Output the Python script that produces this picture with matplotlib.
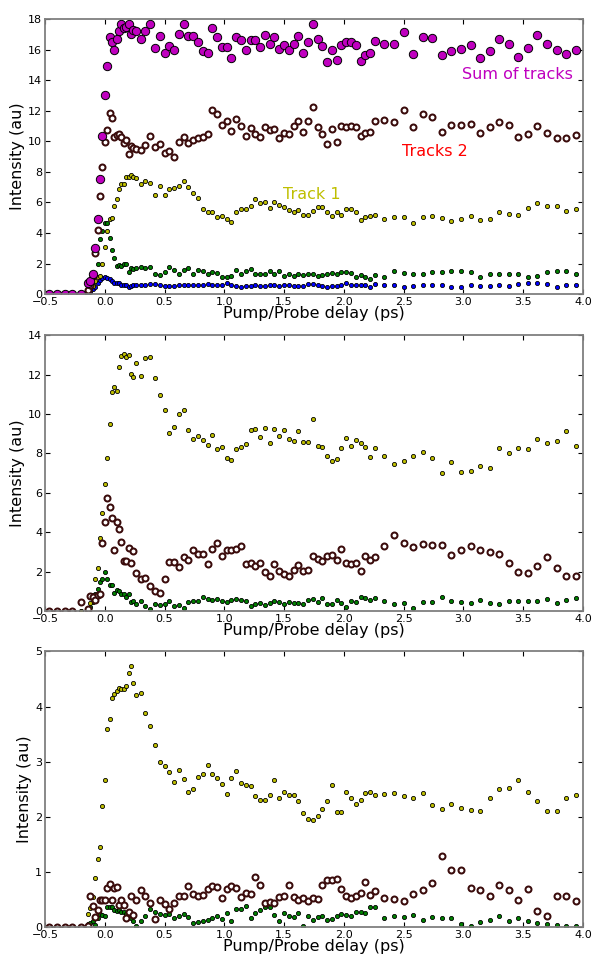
import matplotlib
matplotlib.use('Agg')
import matplotlib.pyplot as plt
import numpy as np

# delay grid (ps): sparse pre-zero, 0.02 step around t0, then 0.04, then 0.08
delay = [-0.47, -0.40, -0.33, -0.27, -0.20,
         -0.14, -0.12, -0.10, -0.08, -0.06, -0.04, -0.02, 0.00, 0.02, 0.04, 0.06,
         0.08, 0.10, 0.12, 0.14, 0.16, 0.18, 0.20, 0.22, 0.24, 0.26,
         0.30, 0.34, 0.38, 0.42, 0.46, 0.50, 0.54, 0.58, 0.62, 0.66,
         0.70, 0.74, 0.78, 0.82, 0.86, 0.90, 0.94, 0.98, 1.02, 1.06,
         1.10, 1.14, 1.18, 1.22, 1.26, 1.30, 1.34, 1.38, 1.42, 1.46,
         1.50, 1.54, 1.58, 1.62, 1.66, 1.70, 1.74, 1.78, 1.82, 1.86,
         1.90, 1.94, 1.98, 2.02, 2.06, 2.10, 2.14, 2.18, 2.22, 2.26,
         2.34, 2.42, 2.50, 2.58, 2.66, 2.74, 2.82, 2.90, 2.98, 3.06, 3.14,
         3.22, 3.30, 3.38, 3.46, 3.54, 3.62, 3.70, 3.78, 3.86, 3.94]

# ---- panel 1 ----
p1_sum = [0, 0, 0, 0, 0,
          0.7, 0.85, 1.35, 3.0, 4.95, 7.55, 10.35, 13.0, 14.9, 16.8, 16.5, 16.0, 16.7, 17.2, 17.7, 17.45, 17.5, 17.7, 17.05, 17.3, 17.2,
          16.7, 17.25, 17.7, 16.1, 16.9, 15.75, 16.25, 15.95, 17.05, 17.65,
          16.9, 16.9, 16.5, 15.9, 15.8, 17.4, 16.85, 16.2, 16.2, 15.45,
          16.8, 16.65, 15.95, 16.6, 16.65, 16.2, 16.95, 16.4, 16.85, 16.05,
          16.3, 16.0, 16.35, 16.9, 15.75, 16.5, 17.67, 16.67, 16.23, 15.19,
          15.97, 15.32, 16.28, 16.5, 16.52, 16.32, 15.23, 15.65, 15.75, 16.54,
          16.36, 16.34, 17.13, 15.71, 16.82, 16.78, 15.62, 15.88, 16.04, 16.3, 15.45,
          15.9, 16.67, 16.34, 15.49, 16.12, 16.95, 16.36, 15.95, 15.69, 15.97]
p1_tr2 = [0, 0, 0, 0, 0,
          0.3, 0.6, 1.2, 2.66, 4.19, 6.41, 8.33, 9.93, 10.73, 11.83, 11.5, 10.3, 10.4, 10.5, 10.3, 9.86, 10.12, 9.2, 9.69, 9.58, 9.47,
          9.43, 9.75, 10.34, 9.64, 9.8, 9.21, 9.36, 8.99, 9.97, 10.26,
          9.86, 10.12, 10.19, 10.26, 10.45, 12.04, 11.76, 11.06, 11.35, 10.69,
          11.48, 11.0, 10.34, 10.89, 10.45, 10.3, 10.95, 10.73, 10.78, 10.19,
          10.52, 10.47, 11.0, 11.32, 10.58, 11.32, 12.22, 10.95, 10.47, 9.82,
          10.84, 9.97, 11.02, 10.91, 10.98, 10.93, 10.36, 10.52, 10.63, 11.32,
          11.39, 11.28, 12.02, 10.95, 11.76, 11.61, 10.6, 11.1, 11.1, 11.13, 10.54,
          10.93, 11.26, 11.04, 10.28, 10.45, 11.0, 10.56, 10.19, 10.19, 10.39]
p1_tr1 = [0, 0, 0, 0, 0,
          0.2, 0.35, 0.55, 0.85, 1.1, 1.18, 2.0, 3.1, 4.15, 4.9, 5.0, 5.76, 6.22, 6.87, 7.24, 7.18, 7.64, 7.68, 7.79, 7.68, 7.57,
          7.2, 7.42, 7.3, 6.48, 7.07, 6.48, 6.87, 6.96, 7.09, 7.4,
          6.98, 6.6, 6.26, 5.6, 5.39, 5.35, 5.06, 5.13, 4.89, 4.73,
          5.35, 5.6, 5.58, 5.76, 6.2, 5.98, 6.0, 5.62, 6.05, 5.85,
          5.7, 5.5, 5.35, 5.5, 5.15, 5.15, 5.43, 5.69, 5.72, 5.37,
          5.1, 5.37, 5.21, 5.54, 5.54, 5.37, 4.84, 5.06, 5.1, 5.19,
          4.95, 5.06, 5.06, 4.67, 5.02, 5.13, 4.97, 4.76, 4.91, 5.13, 4.87,
          4.91, 5.39, 5.26, 5.19, 5.65, 5.96, 5.78, 5.74, 5.45, 5.54]
p1_green = [0, 0, 0, 0, 0,
            0.1, 0.3, 0.6, 1.2, 2.0, 3.58, 4.15, 4.67, 4.67, 3.65, 2.9, 2.35, 1.85, 1.9, 1.85, 1.95, 2.0, 1.45, 1.7, 1.65, 1.7,
            1.75, 1.68, 1.79, 1.31, 1.24, 1.46, 1.79, 1.61, 1.31, 1.61,
            1.72, 1.29, 1.57, 1.5, 1.35, 1.46, 1.4, 1.13, 1.13, 1.18,
            1.57, 1.35, 1.5, 1.66, 1.35, 1.29, 1.29, 1.5, 1.35, 1.5,
            1.2, 1.31, 1.18, 1.31, 1.22, 1.31, 1.35, 1.2, 1.22, 1.29,
            1.4, 1.35, 1.42, 1.46, 1.4, 1.13, 1.24, 1.09, 0.98, 1.24,
            1.13, 1.5, 1.4, 1.35, 1.31, 1.46, 1.42, 1.5, 1.5, 1.46, 1.13,
            1.31, 1.35, 1.35, 1.35, 1.13, 1.2, 1.46, 1.5, 1.53, 1.31]
p1_blue = [0, 0, 0, 0, 0,
           0.05, 0.15, 0.35, 0.5, 0.7, 0.92, 1.03, 1.09, 1.03, 0.96, 0.85, 0.74, 0.74, 0.7, 0.59, 0.59, 0.59, 0.48, 0.55, 0.59, 0.59,
           0.63, 0.63, 0.68, 0.68, 0.63, 0.52, 0.55, 0.55, 0.59, 0.63,
           0.59, 0.59, 0.63, 0.63, 0.65, 0.63, 0.63, 0.59, 0.7, 0.63,
           0.52, 0.48, 0.55, 0.52, 0.59, 0.55, 0.55, 0.63, 0.59, 0.55,
           0.63, 0.57, 0.55, 0.55, 0.52, 0.65, 0.65, 0.63, 0.52, 0.44,
           0.52, 0.55, 0.63, 0.72, 0.63, 0.63, 0.57, 0.57, 0.48, 0.65,
           0.63, 0.59, 0.48, 0.52, 0.59, 0.59, 0.59, 0.5, 0.5, 0.59, 0.55,
           0.55, 0.59, 0.55, 0.65, 0.72, 0.74, 0.65, 0.44, 0.57, 0.59]

# ---- panel 2 ----
p2_tr1 = [0, 0, 0, 0, 0,
          0.1, 0.4, 0.8, 1.64, 2.2, 3.72, 4.98, 6.43, 7.79, 9.48, 11.12, 11.38, 11.17, 12.39, 12.93, 13.04, 12.9, 13.0, 12.05, 11.88, 12.6,
          11.92, 12.83, 12.88, 11.82, 10.99, 10.19, 9.04, 9.34, 9.99, 10.19,
          9.21, 8.74, 8.89, 8.67, 8.45, 8.92, 8.24, 8.31, 7.75, 7.67,
          8.24, 8.33, 8.48, 9.18, 9.24, 8.84, 9.29, 8.53, 9.24, 8.9,
          9.19, 8.75, 8.63, 9.12, 8.58, 8.58, 9.73, 8.38, 8.33, 7.87,
          7.6, 7.74, 8.26, 8.8, 8.38, 8.7, 8.53, 8.33, 7.82, 8.3,
          7.86, 7.47, 7.6, 7.86, 8.06, 7.79, 6.99, 7.57, 7.08, 7.09, 7.36,
          7.25, 8.28, 8.04, 8.3, 8.21, 8.72, 8.55, 8.63, 9.16, 8.38]
p2_tr2 = [0, 0, 0, 0, 0.48,
          0.1, 0.75, 0.7, 0.55, 0.8, 0.88, 3.45, 4.55, 5.73, 5.27, 4.73, 3.08, 4.52, 4.17, 3.52, 2.55, 2.57, 3.23, 2.45, 3.06, 1.96,
          1.61, 1.68, 1.3, 1.05, 0.91, 1.63, 2.5, 2.49, 2.23, 2.74,
          2.61, 3.08, 2.88, 2.88, 2.37, 3.18, 3.45, 2.81, 3.08, 3.11,
          3.18, 3.32, 2.4, 2.47, 2.29, 2.44, 1.98, 1.81, 2.37, 2.03,
          1.9, 1.81, 2.07, 2.32, 2.03, 2.1, 2.81, 2.64, 2.57, 2.81,
          2.86, 2.61, 3.15, 2.44, 2.39, 2.44, 2.03, 2.79, 2.61, 2.76,
          3.32, 3.89, 3.44, 3.27, 3.4, 3.34, 3.34, 2.84, 3.08, 3.3, 3.08,
          3.01, 2.88, 2.47, 2.01, 1.95, 2.29, 2.73, 2.2, 1.78, 1.81]
p2_green = [0, 0, 0, 0, 0,
            0.05, 0.2, 0.45, 0.85, 1.13, 1.47, 1.64, 1.98, 1.64, 1.35, 1.35, 0.91, 1.08, 1.02, 0.88, 0.85, 0.71, 0.85, 0.46, 0.51, 0.37,
            0.54, 0.27, 0.1, 0.37, 0.29, 0.37, 0.51, 0.24, 0.29, 0.17,
            0.46, 0.51, 0.51, 0.73, 0.63, 0.58, 0.64, 0.54, 0.47, 0.58,
            0.63, 0.58, 0.54, 0.25, 0.34, 0.44, 0.32, 0.41, 0.54, 0.49,
            0.34, 0.46, 0.44, 0.41, 0.39, 0.58, 0.61, 0.46, 0.68, 0.34,
            0.34, 0.59, 0.44, 0.2, 0.51, 0.46, 0.74, 0.66, 0.58, 0.66,
            0.51, 0.39, 0.41, 0.17, 0.49, 0.46, 0.74, 0.54, 0.46, 0.41, 0.59,
            0.44, 0.37, 0.54, 0.54, 0.54, 0.54, 0.63, 0.44, 0.58, 0.66]

# ---- panel 3 ----
p3_tr1 = [0, 0, 0, 0, 0,
          0.24, 0.35, 0.55, 0.89, 1.23, 1.46, 2.19, 2.67, 3.59, 3.78, 4.16, 4.23, 4.29, 4.34, 4.32, 4.31, 4.37, 4.61, 4.74, 4.43, 4.2,
          4.25, 3.89, 3.65, 3.3, 2.99, 2.93, 2.82, 2.64, 2.85, 2.68,
          2.45, 2.51, 2.73, 2.77, 2.94, 2.78, 2.71, 2.59, 2.42, 2.7,
          2.84, 2.61, 2.58, 2.56, 2.38, 2.3, 2.3, 2.4, 2.67, 2.34,
          2.45, 2.39, 2.39, 2.29, 2.07, 1.96, 1.94, 2.02, 2.15, 2.29,
          2.58, 2.09, 2.09, 2.45, 2.34, 2.24, 2.3, 2.43, 2.45, 2.39,
          2.41, 2.43, 2.38, 2.34, 2.43, 2.21, 2.15, 2.24, 2.17, 2.13, 2.1,
          2.34, 2.5, 2.53, 2.66, 2.46, 2.29, 2.1, 2.1, 2.34, 2.39]
p3_tr2 = [0, 0, 0, 0, 0.01,
          0.02, 0.57, 0.39, 0.18, 0.31, 0.5, 0.5, 0.5, 0.71, 0.79, 0.5, 0.71, 0.73, 0.41, 0.5, 0.41, 0.17, 0.27, 0.57, 0.22, 0.5,
          0.67, 0.57, 0.44, 0.15, 0.5, 0.42, 0.34, 0.44, 0.57, 0.56,
          0.74, 0.6, 0.57, 0.59, 0.7, 0.74, 0.73, 0.53, 0.69, 0.74,
          0.71, 0.54, 0.63, 0.6, 0.91, 0.77, 0.44, 0.45, 0.44, 0.54,
          0.56, 0.76, 0.54, 0.5, 0.53, 0.48, 0.53, 0.51, 0.77, 0.85,
          0.85, 0.87, 0.7, 0.56, 0.53, 0.56, 0.63, 0.82, 0.59, 0.65,
          0.53, 0.51, 0.47, 0.6, 0.68, 0.8, 1.29, 1.03, 1.03, 0.72, 0.68,
          0.56, 0.76, 0.68, 0.5, 0.7, 0.29, 0.21, 0.56, 0.57, 0.47]
p3_green = [0, 0, 0, 0, 0,
            0.06, 0.08, 0.12, 0.05, 0.17, 0.25, 0.23, 0.21, 0.36, 0.36, 0.36, 0.31, 0.3, 0.31, 0.28, 0.28, 0.24, 0.19, 0.17, 0.12, 0.03,
            0.12, 0.2, 0.33, 0.27, 0.25, 0.23, 0.25, 0.17, 0.2, 0.25,
            0.19, 0.08, 0.1, 0.12, 0.13, 0.17, 0.2, 0.15, 0.26, 0.11,
            0.33, 0.33, 0.38, 0.17, 0.26, 0.32, 0.36, 0.36, 0.22, 0.11,
            0.26, 0.2, 0.18, 0.26, 0.02, 0.2, 0.13, 0.18, 0.2, 0.13,
            0.15, 0.21, 0.24, 0.22, 0.2, 0.27, 0.28, 0.26, 0.36, 0.36,
            0.16, 0.2, 0.18, 0.22, 0.13, 0.18, 0.17, 0.17, 0.06, 0.02, 0.1,
            0.13, 0.21, 0.12, 0.16, 0.12, 0.08, 0.06, 0.04, 0.02, 0.03]

x_ticks = [-0.5, 0.0, 0.5, 1.0, 1.5, 2.0, 2.5, 3.0, 3.5, 4.0]


def small(ax, y, color):
    ax.plot(delay, y, 'o', ls='none', ms=3.0, mfc=color, mec='black', mew=0.6)


def rings(ax, y):
    ax.plot(delay, y, 'o', ls='none', ms=4.3, mfc='white', mec='#3a0b0b', mew=1.45)


def style_axes(ax, ymax, ystep):
    ax.set_xlim(-0.5, 4.0)
    ax.set_ylim(0, ymax)
    ax.set_xticks(x_ticks)
    ax.set_xticklabels([f"{t:.1f}".replace('-', '\u2212') for t in x_ticks])
    ax.set_yticks(np.arange(0, ymax + 0.01, ystep))
    ax.tick_params(direction='in', top=True, right=True, length=3.5, width=0.8,
                   labelsize=8, pad=2)
    for s in ax.spines.values():
        s.set_color('#7f7f7f')
        s.set_linewidth(1.3)
    ax.set_xlabel('Pump/Probe delay (ps)', fontsize=11.5, labelpad=-1)
    ax.set_ylabel('Intensity (au)', fontsize=11.5, labelpad=2)


fig = plt.figure(figsize=(5.96, 9.55), dpi=100)
ax1 = fig.add_axes([0.0755, 0.692, 0.9025, 0.288])
ax2 = fig.add_axes([0.0755, 0.360, 0.9025, 0.289])
ax3 = fig.add_axes([0.0755, 0.029, 0.9025, 0.289])

small(ax1, p1_green, '#007f00')
small(ax1, p1_blue, '#0000ff')
small(ax1, p1_tr1, '#bfbf00')
rings(ax1, p1_tr2)
ax1.plot(delay, p1_sum, 'o', ls='none', ms=6.0, mfc='#bf00bf', mec='black', mew=0.7)
ax1.text(2.99, 14.4, 'Sum of tracks', color='#bf00bf', fontsize=11.5, va='center')
ax1.text(2.49, 9.36, 'Tracks 2', color='red', fontsize=11.5, va='center')
ax1.text(1.49, 6.55, 'Track 1', color='#bfbf00', fontsize=11.5, va='center')
style_axes(ax1, 18, 2)

small(ax2, p2_green, '#007f00')
small(ax2, p2_tr1, '#bfbf00')
rings(ax2, p2_tr2)
style_axes(ax2, 14, 2)

small(ax3, p3_green, '#007f00')
small(ax3, p3_tr1, '#bfbf00')
rings(ax3, p3_tr2)
style_axes(ax3, 5, 1)

fig.savefig('out.png', dpi=100)
